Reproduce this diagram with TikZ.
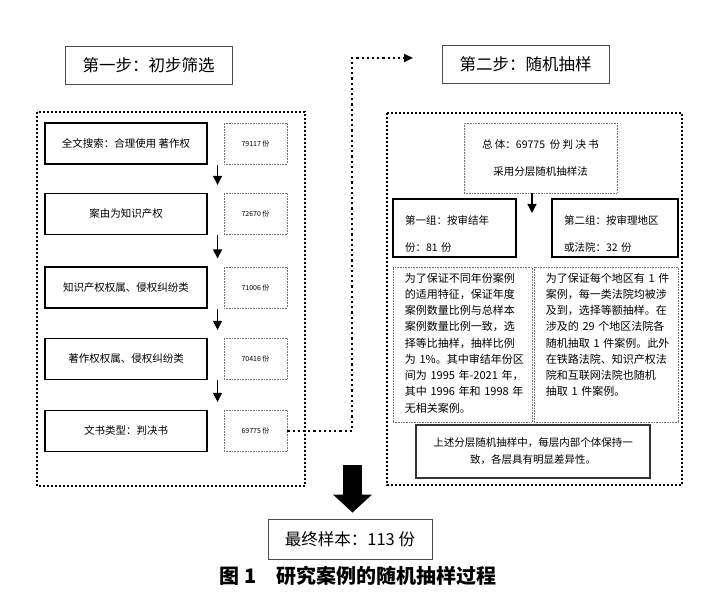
\documentclass[tikz,border=0pt]{standalone}
\usepackage{fontspec}
\setmainfont{Noto Sans CJK SC}
\usetikzlibrary{arrows.meta}
\tikzset{
  stageline/.style={line width=2pt, dash pattern=on 2pt off 2pt},
  stepbox/.style={draw=black!70, line width=0.9pt, minimum width=167pt, minimum height=38pt, font=\fontsize{16.5}{20}\selectfont},
  filterbox/.style={draw, line width=1.1pt, minimum width=162pt, minimum height=41pt, font=\fontsize{10.5}{12}\selectfont},
  countbox/.style={draw=black!55, densely dotted, line width=0.6pt, minimum width=63pt, minimum height=41pt, font=\fontsize{7}{8}\selectfont},
  popbox/.style={draw=black!55, densely dotted, line width=0.6pt, minimum width=153pt, minimum height=70pt, align=center, font=\fontsize{10.5}{27}\selectfont},
  groupbox/.style={draw, line width=1.1pt, minimum height=58pt, inner xsep=12pt, align=left, font=\fontsize{10.5}{27}\selectfont},
  notebox/.style={draw=black!55, densely dotted, line width=0.6pt, minimum height=155pt},
  notetext/.style={anchor=north west, inner sep=0pt, text width=125pt, align=left, font=\fontsize{11}{16.25}\selectfont},
  sumbox/.style={draw=black!80, line width=1.1pt, minimum width=234pt, minimum height=53pt, align=center, font=\fontsize{10.5}{17}\selectfont},
  flow/.style={line width=1.2pt, -{Triangle[width=9pt,length=9pt]}},
  link/.style={line width=2.2pt, dash pattern=on 2.2pt off 3pt, -{Triangle[width=8pt,length=9pt]}},
  bigarrow/.style={line width=19pt, -{Triangle[width=38pt,length=18pt]}}
}
\newcommand{\lowfirst}{\rule{0pt}{21pt}}
\begin{document}
\begin{tikzpicture}[x=1pt,y=-1pt]
  \useasboundingbox (0,0) rectangle (713,593);
  % the two stages
  \draw[stageline] (37,112) rectangle (305,486);
  \draw[stageline] (387,113) rectangle (682,485);
  \node[stepbox] (step1) at (148.5,65) {第一步：初步筛选};
  \node[stepbox] (step2) at (525.5,64.5) {第二步：随机抽样};
  % step one: filters and counts
  \foreach \i/\y/\t/\n in {1/143.5/全文搜索：合理使用 著作权/79117 份,2/214/案由为知识产权/72670 份,3/287.5/知识产权权属、侵权纠纷类/71006 份,4/359/著作权权属、侵权纠纷类/70416 份,5/431/文书类型：判决书/69775 份} {
    \node[filterbox] (f\i) at (126,\y) {\t};
    \node[countbox] (c\i) at (255.5,\y) {\n};
  }
  \foreach \i/\j in {1/2,2/3,3/4,4/5}
    \draw[flow] ([xshift=10pt]f\i.south east) -- ([xshift=10pt,yshift=8pt]f\j.north east);
  % link to step two
  \coordinate (turn) at (352,58);
  \coordinate (linkend) at (413,58);
  \draw[link] (c5.east) -| (turn) -- (linkend);
  % step two: stratified sampling
  \node[popbox] (pop) at (540.5,158) {总\ 体：69775\ \ 份\ 判\ 决\ 书\\采用分层随机抽样法};
  \coordinate (split) at (532,213);
  \draw[flow] (pop.south -| split) -- (split);
  \node[groupbox, text width=99pt] (g1) at (454.5,228) {\lowfirst 第一组：按审结年\\份：81 份};
  \node[groupbox, text width=102pt] (g2) at (615,228) {\lowfirst 第二组：按审理地区\\或法院：32 份};
  \node[notebox, minimum width=139pt] (n1) at (462.5,344.5) {};
  \node[notebox, minimum width=144pt] (n2) at (606,344.5) {};
  \node[notetext] (t1) at ([xshift=12pt,yshift=-6pt]n1.north west) {为了保证不同年份案例\\的适用特征，保证年度\\案例数量比例与总样本\\案例数量比例一致，选\\择等比抽样，抽样比例\\为 1\%。其中审结年份区\\间为 1995 年-2021 年，\\其中 1996 年和 1998 年\\无相关案例。};
  \node[notetext] (t2) at ([xshift=12pt,yshift=-6pt]n2.north west) {为了保证每个地区有 1 件\\案例，每一类法院均被涉\\及到，选择等额抽样。在\\涉及的 29 个地区法院各\\随机抽取 1 件案例。此外\\在铁路法院、知识产权法\\院和互联网法院也随机\\抽取 1 件案例。};
  \node[sumbox] (sum) at (533,451.5) {上述分层随机抽样中，每层内部个体保持一\\致，各层具有明显差异性。};
  % final sample
  \node[stepbox, minimum width=164pt, minimum height=40pt] (final) at (350,539) {最终样本：113 份};
  \coordinate (down) at (352.5,465);
  \draw[bigarrow] (down) -- ([yshift=6pt]final.north -| down);
  \node[font=\fontsize{20}{24}\selectfont\bfseries] (caption) at (358,576) {图 1\quad 研究案例的随机抽样过程};
\end{tikzpicture}
\end{document}
